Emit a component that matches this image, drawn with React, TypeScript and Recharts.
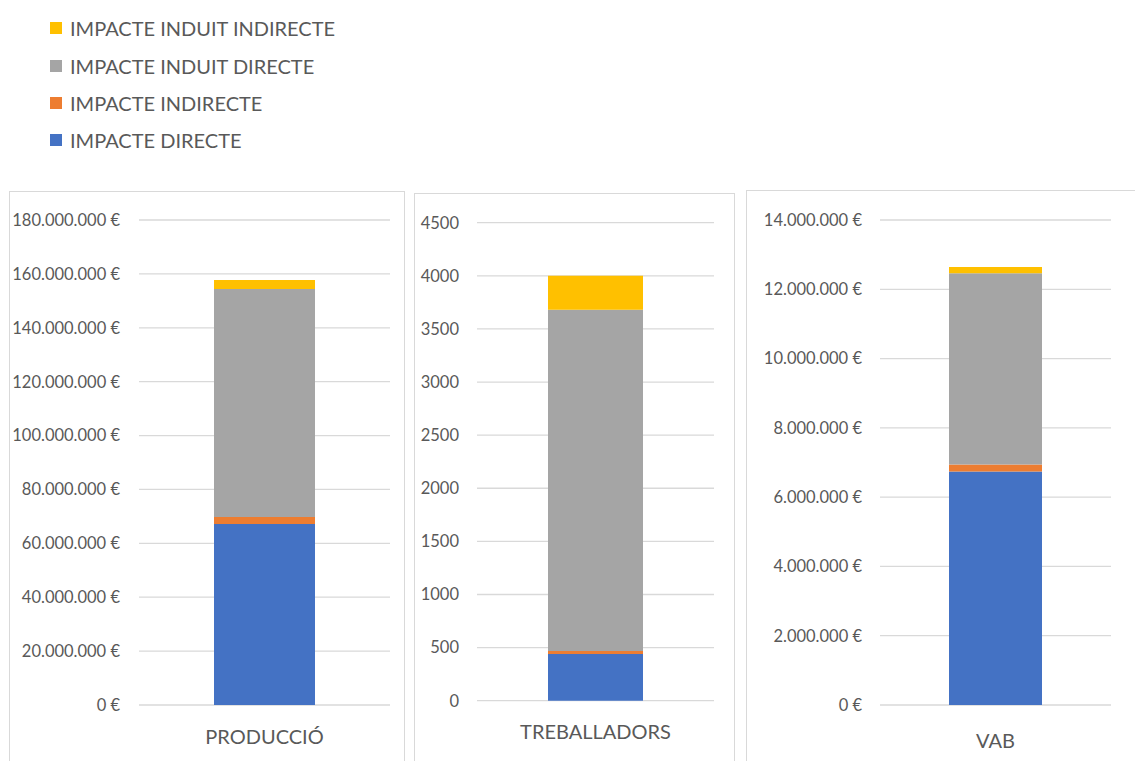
import React from 'react';
import { BarChart, Bar, XAxis, YAxis, CartesianGrid } from 'recharts';

const categories = ['PRODUCCIÓ', 'TREBALLADORS', 'VAB'];
const seriesNames = ['IMPACTE DIRECTE', 'IMPACTE INDIRECTE', 'IMPACTE INDUIT DIRECTE', 'IMPACTE INDUIT INDIRECTE'];
const seriesKeys = ['directe', 'indirecte', 'induitDirecte', 'induitIndirecte'];
const seriesColors = ['#4472C4', '#ED7D31', '#A5A5A5', '#FFC000'];

const directe = [67200000, 440, 6740000];
const indirecte = [2600000, 28, 200000];
const induitDirecte = [84600000, 3212, 5520000];
const induitIndirecte = [3300000, 320, 180000];

const ticksProduccio = [0, 20000000, 40000000, 60000000, 80000000, 100000000, 120000000, 140000000, 160000000, 180000000];
const ticksTreballadors = [0, 500, 1000, 1500, 2000, 2500, 3000, 3500, 4000, 4500];
const ticksVab = [0, 2000000, 4000000, 6000000, 8000000, 10000000, 12000000, 14000000];

const seriesValues = [directe, indirecte, induitDirecte, induitIndirecte];

const euro = (v: number) => v.toString().replace(/\B(?=(\d{3})+(?!\d))/g, '.') + ' €';
const plain = (v: number) => String(v);

const TEXT = '#595959';
const GRID = '#d9d9d9';
const FONT = 'Lato, "Open Sans", sans-serif';

type PanelProps = {
  idx: number;
  left: number; top: number; width: number;
  plotLeft: number; plotRight: number; plotTop: number; plotBottom: number;
  ticks: number[]; fmt: (v: number) => string;
  barSize: number; labelOffset: number; tickMargin: number;
};

function Panel(p: PanelProps) {
  const row: any = { name: categories[p.idx] };
  seriesKeys.forEach((k, i) => { row[k] = seriesValues[i][p.idx]; });
  const data = [row];
  const H = 590;
  const xh = 60;
  return (
    <div style={{ position: 'absolute', left: p.left, top: p.top, width: p.width, height: 600, border: `1px solid ${GRID}`, background: '#fff' }}>
      <BarChart
        width={p.width}
        height={H}
        data={data}
        margin={{ left: 0, right: p.width - p.plotRight, top: p.plotTop, bottom: H - p.plotBottom - xh }}
      >
        <CartesianGrid vertical={false} stroke={GRID} strokeWidth={1.3} />
        <YAxis
          width={p.plotLeft}
          domain={[p.ticks[0], p.ticks[p.ticks.length - 1]]}
          ticks={p.ticks}
          tickFormatter={p.fmt}
          axisLine={false}
          tickLine={false}
          tickSize={0}
          tickMargin={p.tickMargin}
          interval={0}
          tick={{ fill: TEXT, fontSize: 16.5, fontFamily: FONT }}
        />
        <XAxis
          dataKey="name"
          height={xh}
          axisLine={false}
          tickLine={false}
          tickSize={0}
          tickMargin={p.labelOffset}
          tick={{ fill: TEXT, fontSize: 20, fontFamily: FONT }}
        />
        {seriesKeys.map((k, i) => (
          <Bar key={k} dataKey={k} stackId="a" fill={seriesColors[i]} barSize={p.barSize} isAnimationActive={false} />
        ))}
      </BarChart>
    </div>
  );
}

export default function App() {
  const legendOrder = [3, 2, 1, 0];
  const legendY = [28, 66, 103, 140];
  return (
    <div style={{ position: 'absolute', left: 0, top: 0, width: 1135, height: 761, overflow: 'hidden', background: '#fff', fontFamily: FONT }}>
      {legendOrder.map((si, j) => (
        <div key={si} style={{ position: 'absolute', left: 50, top: legendY[j] - 12, height: 24, display: 'flex', alignItems: 'center', whiteSpace: 'nowrap' }}>
          <div style={{ width: 12, height: 12, background: seriesColors[si], marginRight: 8 }} />
          <span style={{ color: TEXT, fontSize: 20, fontFamily: FONT, lineHeight: '24px' }}>{seriesNames[si]}</span>
        </div>
      ))}
      <Panel idx={0} left={9} top={191} width={394}
        plotLeft={129} plotRight={380} plotTop={28} plotBottom={513}
        ticks={ticksProduccio} fmt={euro} barSize={101} labelOffset={25} tickMargin={19} />
      <Panel idx={1} left={414} top={193} width={319}
        plotLeft={62} plotRight={299} plotTop={28.7} plotBottom={506.7}
        ticks={ticksTreballadors} fmt={plain} barSize={95} labelOffset={24} tickMargin={18} />
      <Panel idx={2} left={746} top={190} width={400}
        plotLeft={133} plotRight={364} plotTop={29} plotBottom={514}
        ticks={ticksVab} fmt={euro} barSize={93} labelOffset={29} tickMargin={18} />
    </div>
  );
}
